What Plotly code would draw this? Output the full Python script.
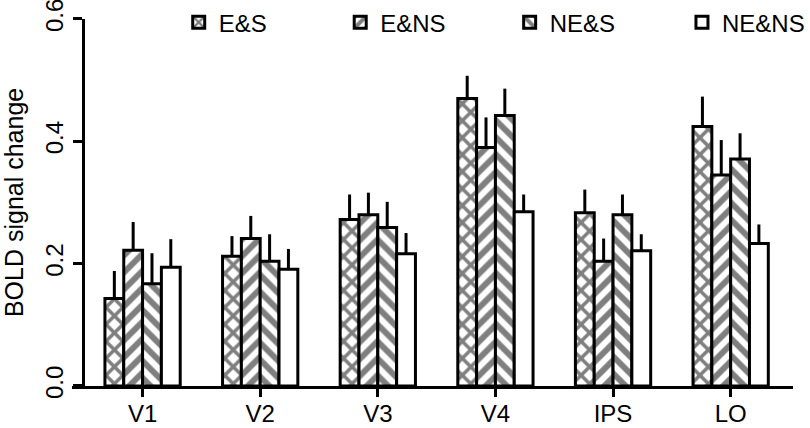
import plotly.graph_objects as go

regions = ['V1', 'V2', 'V3', 'V4', 'IPS', 'LO']
conditions = ['E&S', 'E&NS', 'NE&S', 'NE&NS']

es_mean = [0.143, 0.212, 0.272, 0.470, 0.283, 0.424]
ens_mean = [0.222, 0.241, 0.280, 0.390, 0.204, 0.345]
nes_mean = [0.167, 0.204, 0.259, 0.442, 0.280, 0.371]
nens_mean = [0.194, 0.191, 0.216, 0.285, 0.221, 0.233]

es_err = [0.045, 0.033, 0.041, 0.037, 0.038, 0.049]
ens_err = [0.046, 0.037, 0.036, 0.049, 0.037, 0.057]
nes_err = [0.050, 0.044, 0.042, 0.044, 0.033, 0.042]
nens_err = [0.046, 0.033, 0.034, 0.028, 0.027, 0.031]

means = [es_mean, ens_mean, nes_mean, nens_mean]
errs = [es_err, ens_err, nes_err, nens_err]
shapes = ['x', '/', '\\', '']

# one legend per condition so the entries can be spread like the original
legend_ids = ['legend', 'legend2', 'legend3', 'legend4']
legend_x = [0.148, 0.372, 0.607, 0.846]

font = 'Liberation Sans, Arial, sans-serif'

fig = go.Figure()
for name, m, e, s, lg in zip(conditions, means, errs, shapes, legend_ids):
    fig.add_trace(go.Bar(
        name=name,
        x=regions,
        y=m,
        legend=lg,
        marker=dict(
            color='white',
            line=dict(color='black', width=3),
            pattern=dict(shape=s, fgcolor='black', bgcolor='white',
                         size=12, solidity=0.5, fillmode='overlay'),
        ),
        error_y=dict(type='data', symmetric=False, array=e,
                     arrayminus=[0] * len(e), color='black',
                     thickness=3, width=0),
    ))

legends = {}
for lg, lx in zip(legend_ids, legend_x):
    legends[lg] = dict(orientation='h', x=lx, y=1.01, yanchor='top',
                       xanchor='left', font=dict(size=24),
                       bgcolor='rgba(0,0,0,0)', itemclick=False)

fig.update_layout(
    width=810, height=428,
    margin=dict(l=72, r=15, t=0, b=42),
    plot_bgcolor='white', paper_bgcolor='white',
    font=dict(family=font, size=24, color='black'),
    barmode='group', bargap=0.36, bargroupgap=0,
    showlegend=True,
    **legends,
    xaxis=dict(
        range=[-0.6, 5.53], showline=True, linecolor='black', linewidth=3,
        ticks='outside', ticklen=8, tickwidth=3, tickcolor='black',
        ticklabelstandoff=-4,
        showgrid=False, zeroline=False, tickfont=dict(size=24),
        automargin=False,
    ),
    yaxis=dict(
        domain=[0, 0.961],
        range=[0, 0.6], tickvals=[0, 0.2, 0.4, 0.6],
        ticktext=['0.0', '0.2', '0.4', '0.6'], tickangle=-90,
        anchor='free', position=0.0152,
        showline=True, linecolor='black', linewidth=3,
        ticks='outside', ticklen=9, tickwidth=3, tickcolor='black',
        ticklabelstandoff=0, ticklabeloverflow='allow', automargin=False,
        showgrid=False, zeroline=False, tickfont=dict(size=24),
        title=dict(text='BOLD signal change', font=dict(size=25), standoff=45),
    ),
)

fig.write_html('out.html', config={'displayModeBar': False},
               post_script="document.body.style.margin='0';")
